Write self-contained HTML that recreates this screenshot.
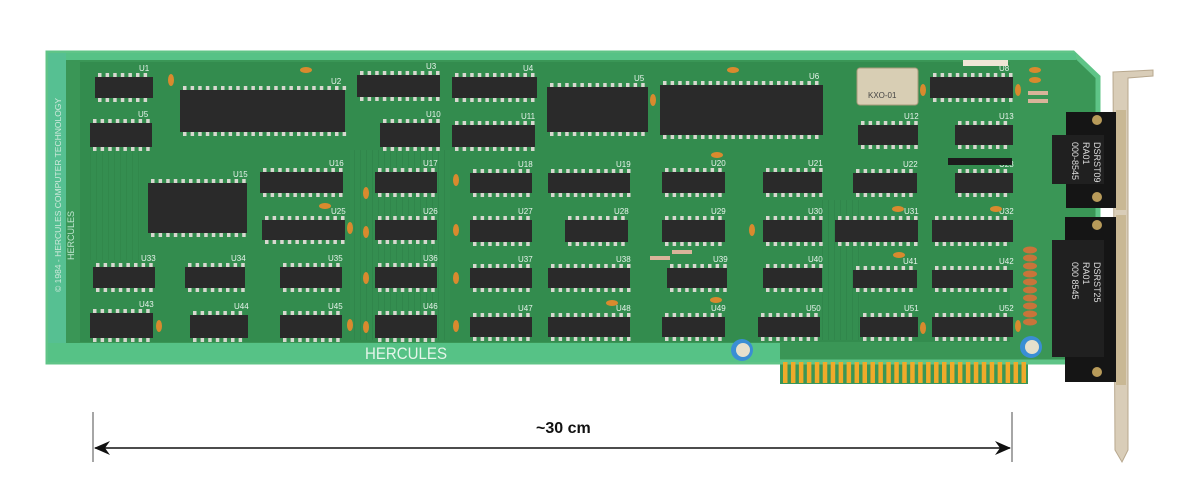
<!DOCTYPE html>
<html><head><meta charset="utf-8">
<style>
html,body{margin:0;padding:0;background:#fff;}
svg{display:block;}
text{font-family:"Liberation Sans",sans-serif;}
</style></head>
<body>
<svg id="s" width="1200" height="494" viewBox="0 0 1200 494" xmlns="http://www.w3.org/2000/svg">
<defs>
<pattern id="tr" width="6" height="6" patternUnits="userSpaceOnUse"><rect width="6" height="6" fill="#358f52"/><line x1="0" y1="0" x2="0" y2="6" stroke="#2a7a43" stroke-width="1.2"/></pattern>
</defs>
<!-- bracket -->
<path d="M1113 72 L1153 70 L1153 76 L1128 78 L1128 450 L1122 462 L1115 450 Z" fill="#d9cdb8" stroke="#b8a88e" stroke-width="1"/>
<rect x="1116" y="110" width="10" height="100" fill="#c9b894"/>
<rect x="1116" y="215" width="10" height="170" fill="#c9b894"/>
<!-- board -->
<path d="M48 53 L1073 53 L1098 77 L1098 362 L1028 362 L1028 384 L780 384 L780 362 L48 362 Z" fill="#3a9656"/>
<path d="M48 53 L1073 53 L1098 77 L1098 362 L48 362 Z" fill="none" stroke="#5fc487" stroke-width="5"/>
<rect x="48" y="53" width="18" height="309" fill="#56c092"/>
<rect x="48" y="343" width="732" height="19" fill="#56c286"/>
<rect x="66" y="53" width="1010" height="7" fill="#56c286"/>
<!-- trace areas -->
<rect x="80" y="62" width="930" height="280" fill="#338c4e"/>
<rect x="350" y="150" width="100" height="190" fill="url(#tr)" opacity="0.6"/>
<rect x="820" y="200" width="40" height="140" fill="url(#tr)" opacity="0.6"/>
<rect x="90" y="150" width="50" height="110" fill="url(#tr)" opacity="0.5"/>
<text x="0" y="0" transform="translate(61,292) rotate(-90)" font-size="8.5" fill="#cfe9dc">© 1984 - HERCULES COMPUTER TECHNOLOGY</text>
<text x="0" y="0" transform="translate(74,260) rotate(-90)" font-size="9" fill="#bfe6cf">HERCULES</text>
<text x="365" y="359" font-size="17" fill="#e5f5ea" textLength="82" lengthAdjust="spacingAndGlyphs">HERCULES</text>
<g id="chips"></g>
<!-- crystal -->
<rect x="857" y="68" width="61" height="37" rx="3" fill="#d8ceb4" stroke="#a89a7a"/>
<text x="868" y="98" font-size="8" fill="#444">KXO-01</text>
<!-- RP1 -->
<rect x="948" y="158" width="64" height="7" fill="#1c1c1c"/>
<!-- J1 -->
<rect x="963" y="60" width="45" height="6" fill="#efe6d6"/>
<g fill="#d98a2e">
<ellipse cx="306" cy="70" rx="6" ry="3"/><ellipse cx="171" cy="80" rx="3" ry="6"/>
<ellipse cx="733" cy="70" rx="6" ry="3"/><ellipse cx="653" cy="100" rx="3" ry="6"/>
<ellipse cx="923" cy="90" rx="3" ry="6"/><ellipse cx="1018" cy="90" rx="3" ry="6"/>
<ellipse cx="717" cy="155" rx="6" ry="3"/><ellipse cx="325" cy="206" rx="6" ry="3"/>
<ellipse cx="350" cy="228" rx="3" ry="6"/><ellipse cx="366" cy="193" rx="3" ry="6"/>
<ellipse cx="366" cy="232" rx="3" ry="6"/><ellipse cx="366" cy="278" rx="3" ry="6"/>
<ellipse cx="366" cy="327" rx="3" ry="6"/><ellipse cx="350" cy="325" rx="3" ry="6"/>
<ellipse cx="159" cy="326" rx="3" ry="6"/><ellipse cx="456" cy="180" rx="3" ry="6"/>
<ellipse cx="456" cy="230" rx="3" ry="6"/><ellipse cx="456" cy="278" rx="3" ry="6"/>
<ellipse cx="456" cy="326" rx="3" ry="6"/><ellipse cx="612" cy="303" rx="6" ry="3"/>
<ellipse cx="716" cy="300" rx="6" ry="3"/><ellipse cx="752" cy="230" rx="3" ry="6"/>
<ellipse cx="898" cy="209" rx="6" ry="3"/><ellipse cx="996" cy="209" rx="6" ry="3"/>
<ellipse cx="899" cy="255" rx="6" ry="3"/><ellipse cx="923" cy="328" rx="3" ry="6"/>
<ellipse cx="1018" cy="326" rx="3" ry="6"/><ellipse cx="1035" cy="70" rx="6" ry="3"/>
<ellipse cx="1035" cy="80" rx="6" ry="3"/>
</g>
<g fill="#c8743a"><ellipse cx="1030" cy="250" rx="7" ry="3.5"/><ellipse cx="1030" cy="258" rx="7" ry="3.5"/><ellipse cx="1030" cy="266" rx="7" ry="3.5"/><ellipse cx="1030" cy="274" rx="7" ry="3.5"/><ellipse cx="1030" cy="282" rx="7" ry="3.5"/><ellipse cx="1030" cy="290" rx="7" ry="3.5"/><ellipse cx="1030" cy="298" rx="7" ry="3.5"/><ellipse cx="1030" cy="306" rx="7" ry="3.5"/><ellipse cx="1030" cy="314" rx="7" ry="3.5"/><ellipse cx="1030" cy="322" rx="7" ry="3.5"/></g>
<g fill="#d9b49a"><rect x="1028" y="91" width="20" height="4"/><rect x="1028" y="99" width="20" height="4"/><rect x="650" y="256" width="20" height="4"/><rect x="672" y="250" width="20" height="4"/></g>
<circle cx="742" cy="350" r="11" fill="#3a8ed4"/><circle cx="743" cy="350" r="7" fill="#e6e0cc"/>
<circle cx="1031" cy="347" r="11" fill="#3a8ed4"/><circle cx="1032" cy="347" r="7" fill="#e6e0cc"/>
<!-- connectors -->
<rect x="1066" y="112" width="50" height="96" fill="#151515"/>
<rect x="1052" y="135" width="52" height="49" fill="#202020"/>
<circle cx="1097" cy="120" r="5" fill="#b89b5a"/><circle cx="1097" cy="197" r="5" fill="#b89b5a"/>
<text transform="translate(1094,142) rotate(90)" font-size="9" fill="#ddd">DSRST09</text>
<text transform="translate(1083,142) rotate(90)" font-size="9" fill="#ddd">RA01</text>
<text transform="translate(1072,142) rotate(90)" font-size="9" fill="#ddd">000-8545</text>
<rect x="1065" y="217" width="51" height="165" fill="#151515"/>
<rect x="1052" y="240" width="52" height="117" fill="#202020"/>
<circle cx="1097" cy="225" r="5" fill="#b89b5a"/><circle cx="1097" cy="372" r="5" fill="#b89b5a"/>
<text transform="translate(1094,262) rotate(90)" font-size="9" fill="#ddd">DSRST25</text>
<text transform="translate(1083,262) rotate(90)" font-size="9" fill="#ddd">RA01</text>
<text transform="translate(1072,262) rotate(90)" font-size="9" fill="#ddd">000 8545</text>
<g id="fingers"></g>
<!-- dimension -->
<line x1="93" y1="412" x2="93" y2="462" stroke="#888" stroke-width="1.5"/>
<line x1="1012" y1="412" x2="1012" y2="462" stroke="#888" stroke-width="1.5"/>
<line x1="95" y1="448" x2="1010" y2="448" stroke="#111" stroke-width="1.5"/>
<path d="M94 448 L110 441 L105 448 L110 455 Z" fill="#111"/>
<path d="M1011 448 L995 441 L1000 448 L995 455 Z" fill="#111"/>
<text x="536" y="433" font-size="16" font-weight="bold" fill="#111">~30 cm</text>
</svg>
<script>
var N="http://www.w3.org/2000/svg";
var chips=[
[95,77,58,21,"U1"],[90,123,62,24,"U5"],[180,90,165,42,"U2"],[357,75,83,22,"U3"],[380,123,60,24,"U10"],
[452,77,85,21,"U4"],[452,125,83,22,"U11"],[547,87,101,45,"U5"],[660,85,163,50,"U6"],
[930,77,83,21,"U8"],[858,125,60,20,"U12"],[955,125,58,20,"U13"],
[148,183,99,50,"U15"],[260,172,83,21,"U16"],[262,220,83,20,"U25"],
[93,267,62,21,"U33"],[185,267,60,21,"U34"],[280,267,62,21,"U35"],
[90,313,63,25,"U43"],[190,315,58,23,"U44"],[280,315,62,23,"U45"],
[375,172,62,21,"U17"],[375,220,62,20,"U26"],[375,267,62,21,"U36"],[375,315,62,23,"U46"],
[470,173,62,20,"U18"],[470,220,62,22,"U27"],[470,268,62,20,"U37"],[470,317,62,20,"U47"],
[548,173,82,20,"U19"],[565,220,63,22,"U28"],[548,268,82,20,"U38"],[548,317,82,20,"U48"],
[662,172,63,21,"U20"],[662,220,63,22,"U29"],[667,268,60,20,"U39"],[662,317,63,20,"U49"],
[763,172,59,21,"U21"],[763,220,59,22,"U30"],[763,268,59,20,"U40"],[758,317,62,20,"U50"],
[853,173,64,20,"U22"],[955,173,58,20,"U23"],[835,220,83,22,"U31"],[932,220,81,22,"U32"],
[853,270,64,18,"U41"],[932,270,81,18,"U42"],[860,317,58,20,"U51"],[932,317,81,20,"U52"]];
var g=document.getElementById("chips");
function el(t,a){var e=document.createElementNS(N,t);for(var k in a)e.setAttribute(k,a[k]);g.appendChild(e);return e;}
chips.forEach(function(c){
 var x=c[0],y=c[1],w=c[2],h=c[3];
 for(var px=x+3;px<x+w-2;px+=7.6){el("rect",{x:px,y:y-4,width:3.5,height:4,fill:"#d8d8d0"});el("rect",{x:px,y:y+h,width:3.5,height:4,fill:"#d8d8d0"});}
 el("rect",{x:x,y:y,width:w,height:h,fill:"#2a2a2a"});
 var t=el("text",{x:x+w-14,y:y-6,"font-size":8,fill:"#e8f4ec"});t.textContent=c[4];
});
var f=document.getElementById("fingers");
for(var i=0;i<31;i++){var r=document.createElementNS(N,"rect");r.setAttribute("x",783+i*7.95);r.setAttribute("y",362);r.setAttribute("width",4.5);r.setAttribute("height",21);r.setAttribute("fill","#efaa2a");f.appendChild(r);}
</script>
</body></html>
